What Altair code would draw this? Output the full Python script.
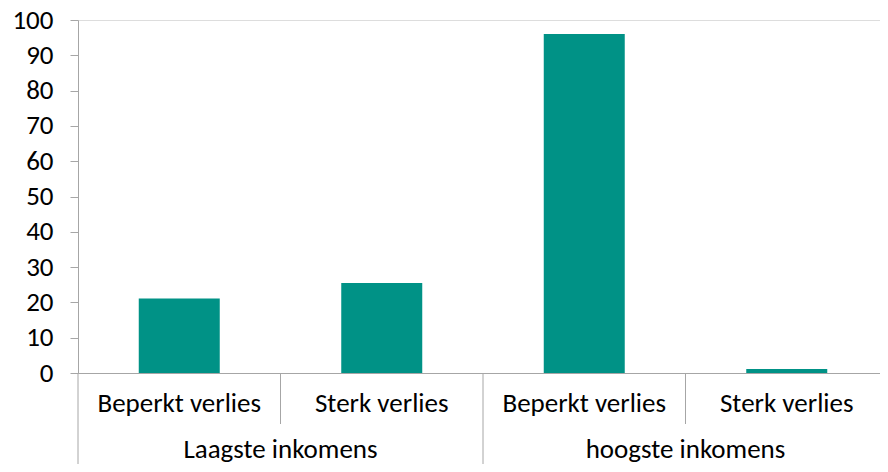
import altair as alt
import pandas as pd

groups = ["Laagste inkomens", "Laagste inkomens", "hoogste inkomens", "hoogste inkomens"]
subs = ["Beperkt verlies", "Sterk verlies", "Beperkt verlies", "Sterk verlies"]
values = [21.1, 25.5, 96.0, 1.1]

keys = [f"{g}|{s}" for g, s in zip(groups, subs)]

bars_df = pd.DataFrame({"key": keys, "value": values})

# divider lines at the start of each category band
div_keys = [keys[0], keys[1], keys[2], keys[3]]
div_kind = ["long", "short", "long", "short"]
div_df = pd.DataFrame({"key": div_keys, "kind": div_kind})

group_names = ["Laagste inkomens", "hoogste inkomens"]
group_mid_keys = [keys[1], keys[3]]
grp_df = pd.DataFrame({"key": group_mid_keys, "label": group_names})

FONT = "Carlito, Liberation Sans, Arial"
W, H = 802, 353
AXIS_GRAY = "#A6A6A6"
FS = 27

xscale = alt.Scale(domain=keys, paddingInner=0, paddingOuter=0, range=[0, 810])

bars = alt.Chart(bars_df).mark_bar(color="#009286", width={"band": 0.4}).encode(
    x=alt.X("key:N", scale=xscale, sort=keys,
            axis=alt.Axis(title=None, labelExpr="split(datum.value, '|')[1]",
                          labelAngle=0, ticks=False, domainColor=AXIS_GRAY,
                          labelFont=FONT, labelFontSize=FS, labelColor="#000000",
                          labelPadding=17)),
    y=alt.Y("value:Q", scale=alt.Scale(domain=[0, 100], nice=False),
            axis=alt.Axis(title=None, values=list(range(0, 101, 10)), grid=False,
                          domainColor=AXIS_GRAY, tickColor=AXIS_GRAY, tickSize=8,
                          labelFont=FONT, labelFontSize=FS, labelColor="#000000",
                          labelPadding=17)),
)

short_rules = alt.Chart(div_df).transform_filter(alt.datum.kind == "short").mark_rule(
    color=AXIS_GRAY, strokeWidth=1).encode(
    x=alt.X("key:N", scale=xscale, sort=keys, bandPosition=0),
    y=alt.value(H), y2=alt.value(H + 51))

long_rules = alt.Chart(div_df).transform_filter(alt.datum.kind == "long").mark_rule(
    color=AXIS_GRAY, strokeWidth=1).encode(
    x=alt.X("key:N", scale=xscale, sort=keys, bandPosition=0),
    y=alt.value(H), y2=alt.value(H + 91))

grp_text = alt.Chart(grp_df).mark_text(
    font=FONT, fontSize=FS, color="#000000", baseline="alphabetic", align="center").encode(
    x=alt.X("key:N", scale=xscale, sort=keys, bandPosition=0),
    y=alt.value(H + 85),
    text="label:N")

chart = alt.layer(bars, short_rules, long_rules, grp_text).properties(
    width=W, height=H,
    autosize=alt.AutoSizeParams(type="none"),
    padding={"left": 70, "top": 12, "right": 0, "bottom": 91},
).configure_view(stroke=None).configure(background="white")

chart.save("out.html", embed_options={"renderer": "svg", "actions": False})
